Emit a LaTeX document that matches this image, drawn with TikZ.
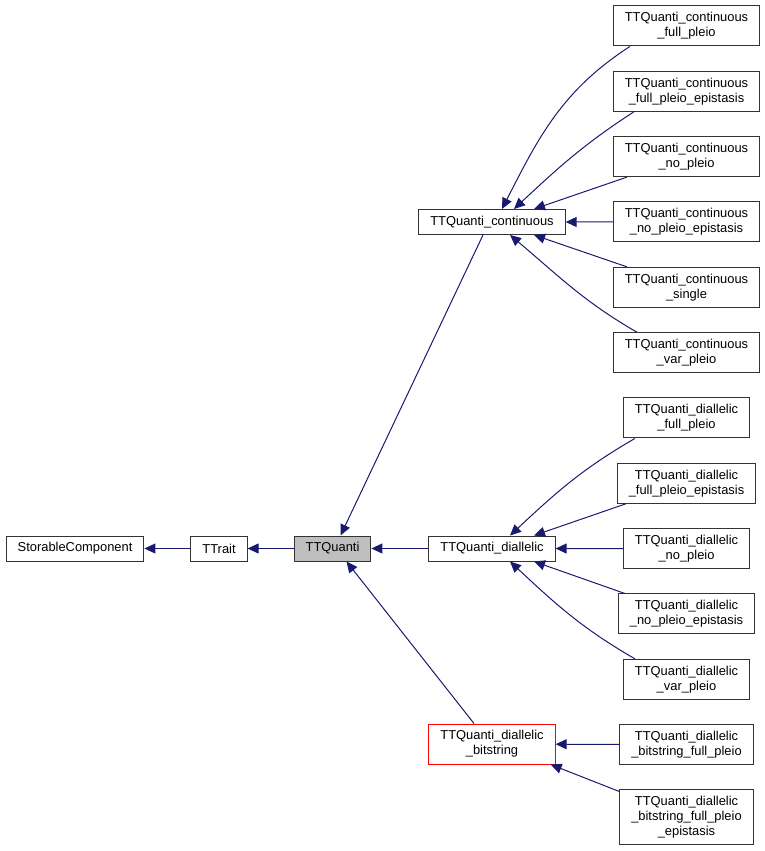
\documentclass[tikz,border=0pt]{standalone}
\usepackage{fontspec}
\setmainfont{Liberation Sans}
\usepackage{tikz}
\usetikzlibrary{arrows.meta, positioning}
\definecolor{edgeblue}{HTML}{191970}
\definecolor{basegray}{HTML}{BFBFBF}

\begin{document}
\begin{tikzpicture}[x=1pt, y=1pt,
	every node/.style={font=\fontsize{12.9}{15}\selectfont},
	cls/.style={draw=black!80, line width=1pt, align=center, inner xsep=11.5pt, inner ysep=0pt, minimum height=25pt},
	cls2/.style={cls, minimum height=40pt},
	inh/.style={draw=edgeblue, line width=1pt, -{Triangle[length=11pt, width=10pt]}}]

\useasboundingbox (0,0) rectangle (765,-851);

\node [cls, fill=basegray] (3) at (332.5,-548.5) {TTQuanti};
\node [cls, left=46pt of 3] (2) {TTrait};
\node [cls, left=46pt of 2] (1) {StorableComponent};
\node [cls, right=57pt of 3] (5) {TTQuanti\_diallelic};
\node [cls] (4) at (492,-222) {TTQuanti\_continuous};
\node [cls2, draw=red] (6) at (492,-744) {TTQuanti\_diallelic \\ \_bitstring};

\node [cls2] (7) at (686.5,-26) {TTQuanti\_continuous \\ \_full\_pleio};
\node [cls2, below=24.33pt of 7] (8) {TTQuanti\_continuous \\ \_full\_pleio\_epistasis};
\node [cls2, below=24.33pt of 8] (9) {TTQuanti\_continuous \\ \_no\_pleio};
\node [cls2, below=24.33pt of 9] (10) {TTQuanti\_continuous \\ \_no\_pleio\_epistasis};
\node [cls2, below=24.33pt of 10] (11) {TTQuanti\_continuous \\ \_single};
\node [cls2, below=24.33pt of 11] (12) {TTQuanti\_continuous \\ \_var\_pleio};
\node [cls2, below=24.33pt of 12] (13) {TTQuanti\_diallelic \\ \_full\_pleio};
\node [cls2, below=24.33pt of 13] (14) {TTQuanti\_diallelic \\ \_full\_pleio\_epistasis};
\node [cls2, below=24.33pt of 14] (15) {TTQuanti\_diallelic \\ \_no\_pleio};
\node [cls2, below=24.33pt of 15] (16) {TTQuanti\_diallelic \\ \_no\_pleio\_epistasis};
\node [cls2, below=24.33pt of 16] (17) {TTQuanti\_diallelic \\ \_var\_pleio};
\node [cls2, below=24.33pt of 17] (18) {TTQuanti\_diallelic \\ \_bitstring\_full\_pleio};
\node [cls2, minimum height=55pt, below=24.33pt of 18] (19) {TTQuanti\_diallelic \\ \_bitstring\_full\_pleio \\ \_epistasis};

\draw [inh] ([xshift=17pt]7.south west) to [out=213, in=63] ([xshift=10pt]4.north);
\draw [inh] ([xshift=21pt]8.south west) to [out=213, in=43] ([xshift=22pt]4.north);
\draw [inh] ([xshift=14pt]9.south west) -- ([xshift=42pt]4.north);
\draw [inh] (10.west) -- (4.east);
\draw [inh] ([xshift=14pt]11.north west) -- ([xshift=42pt]4.south);
\draw [inh] ([xshift=24pt]12.north west) to [out=150, in=-40] ([xshift=18pt]4.south);

\draw [inh] ([xshift=12pt]13.south west) to [out=210, in=43] ([xshift=18pt]5.north);
\draw [inh] ([xshift=9pt]14.south west) -- ([xshift=42pt]5.north);
\draw [inh] (15.west) -- (5.east);
\draw [inh] ([xshift=7pt]16.north west) -- ([xshift=42pt]5.south);
\draw [inh] ([xshift=12pt]17.north west) to [out=150, in=-43] ([xshift=18pt]5.south);

\draw [inh] (18) -- (6);
\draw [inh] ([yshift=-2pt]19.north west) -- ([xshift=-5pt]6.south east);

\draw [inh] ([xshift=-9pt]4.south) -- ([xshift=8pt]3.north);
\draw [inh] ([xshift=-18pt]6.north) -- ([xshift=14pt]3.south);
\draw [inh] (5) -- (3);
\draw [inh] (3) -- (2);
\draw [inh] (2) -- (1);

\end{tikzpicture}
\end{document}
